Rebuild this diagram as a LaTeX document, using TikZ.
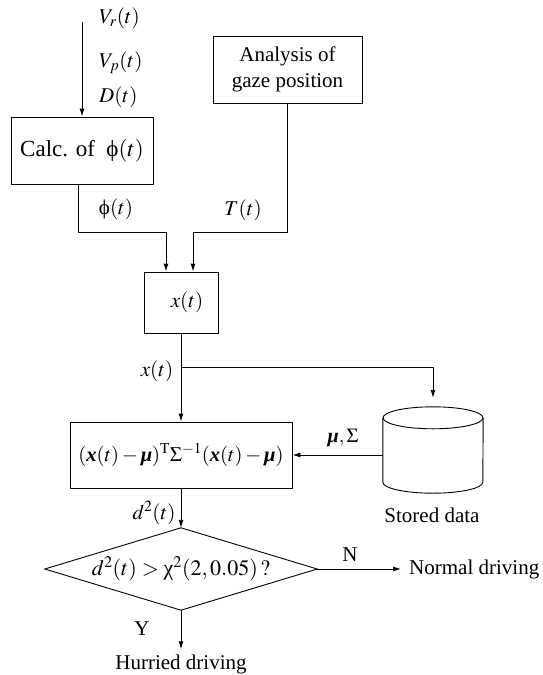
\documentclass[tikz,border=0pt]{standalone}
\usepackage{mathptmx}
\usepackage{fontspec}
\setmainfont{Liberation Serif}
\usetikzlibrary{arrows.meta}
\newcommand\bvec[1]{\mbox{\bfseries\itshape #1}}
\newcommand\uphi{\mbox{ϕ}}
\newcommand\uchi{\mbox{χ}}
\begin{document}
\begin{tikzpicture}[x=1pt,y=-1pt,
  box/.style={draw,line width=0.9pt,inner sep=0pt,align=center},
  lbl/.style={inner sep=0pt},
  ln/.style={line width=0.9pt},
  arr/.style={ln,-{Latex[length=8pt,width=5pt]}},
  font=\fontsize{21}{26}\selectfont]
\useasboundingbox (0,0) rectangle (543,675);

% inputs
\node[lbl,anchor=west] (vr) at (99,18) {$V_r(t)$};
\node[lbl,anchor=west] (vp) at (99,63) {$V_p(t)$};
\node[lbl,anchor=west] (dt) at (99,97) {$D(t)$};
\coordinate (vin) at (82,22);

\node[box,minimum width=142,minimum height=67,font=\fontsize{23}{27}\selectfont] (calc) at (82,150.5) {Calc. of\ \ \uphi$(t)$};
\draw[arr] (vin) -- (calc.north);

\node[box,minimum width=149,minimum height=67] (ana) at (287.5,69.5) {Analysis of\\gaze position};

% x(t) box
\node[box,minimum width=74,minimum height=61] (xb) at (181,302.5) {\hspace*{12pt}$x(t)$};
\coordinate (jn) at (0,232);
\coordinate (inL) at ([xshift=-15pt]xb.north);
\coordinate (inR) at ([xshift=12pt]xb.north);
\coordinate (cout) at ([xshift=-4pt]calc.south);
\draw[arr] (cout) |- (inL |- jn) -- (inL);
\draw[arr] (ana.south) |- (inR |- jn) -- (inR);
\node[lbl] (phil) at (116,209) {\uphi$(t)$};
\node[lbl] (tl) at (243,210) {$T(t)$};

% formula box
\node[box,minimum width=222,minimum height=66,font=\fontsize{20.5}{24}\selectfont] (f) at (181,455)
  {$(\bvec{x}(t)-\bvec{μ})^{\mathrm{T}}\Sigma^{-1}(\bvec{x}(t)-\bvec{μ})$};
\draw[arr] (xb.south) -- (f.north);
\node[lbl] (xl) at (157,371) {$x(t)$};

% stored data
\node[minimum width=100,minimum height=86,inner sep=0pt] (st) at (433,450) {};
\coordinate (tc) at ([yshift=-11pt]st.north);
\coordinate (bc) at ([yshift=11pt]st.south);
\draw[ln] (tc) ellipse [x radius=50pt, y radius=11pt];
\draw[ln] (tc -| st.west) -- (bc -| st.west) arc[start angle=180,end angle=360,x radius=50pt,y radius=11pt] -- (tc -| st.east);
\coordinate (brY) at (0,367);
\coordinate (br) at (xb.south |- brY);
\draw[arr,shorten >=9pt] (br) -| (st.north);
\draw[arr] (st.west |- f.east) -- (f.east);
\node[lbl,font=\fontsize{20}{24}\selectfont] (ms) at (343,438) {$\bvec{μ},\Sigma$};
\node[lbl] (sd) at (432,515) {Stored data};

% decision
\node[minimum width=272,minimum height=82,inner sep=0pt,font=\fontsize{22}{26}\selectfont] (dia) at (181,569)
  {$d^2(t) > \uchi^2(2,0.05)\,?$};
\draw[ln] (dia.north) -- (dia.east) -- (dia.south) -- (dia.west) -- cycle;
\draw[arr] (f.south) -- (dia.north);
\node[lbl] (dl) at (154,513) {$d^2(t)$};

\node[lbl,anchor=west,inner xsep=8pt] (nd) at (401,569) {Normal driving};
\draw[arr] (dia.east) -- (nd.west);
\node[lbl] (nl) at (350,555) {N};

\node[lbl,inner ysep=5pt] (hd) at (181,664) {Hurried driving};
\draw[arr] (dia.south) -- (hd.north);
\node[lbl] (yl) at (142,629) {Y};
\end{tikzpicture}
\end{document}
